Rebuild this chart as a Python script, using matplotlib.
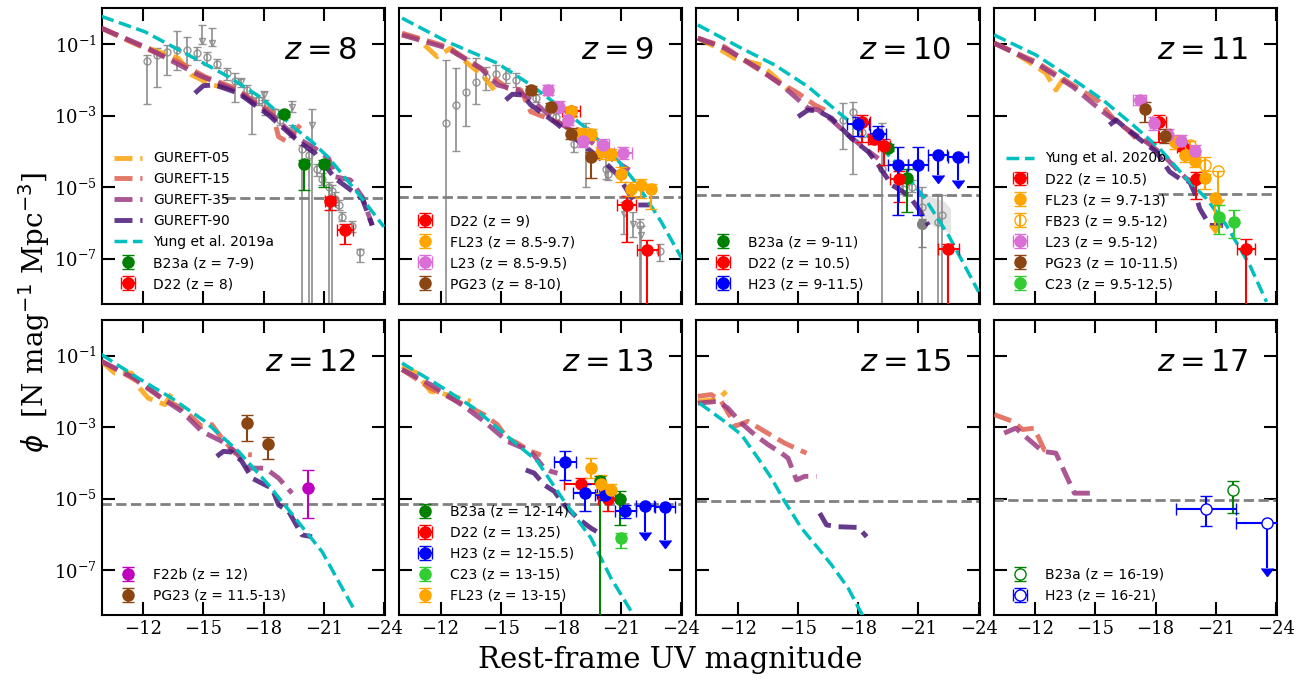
import numpy as np
import matplotlib
matplotlib.use('Agg')
import matplotlib.pyplot as plt
from matplotlib.ticker import NullLocator

plt.rcParams['font.family'] = ['DejaVu Serif']
plt.rcParams['mathtext.fontset'] = 'dejavusans'
plt.rcParams['axes.linewidth'] = 1.5

# ---------------- colours ----------------
C05 = '#FBA30C'
C15 = '#E0604D'
C35 = '#9B3A80'
C90 = '#4A1677'
CYUNG = 'c'
GRAY = '#8a8a8a'

# ---------------- panel redshifts ----------------
redshifts = [8, 9, 10, 11, 12, 13, 15, 17]
xticks = [-12, -15, -18, -21, -24]
yticks_log = [-7, -5, -3, -1]

# ---------------- model curves: (M_UV, log10 phi) ----------------
yung_z8 = [(-9.92, -0.22), (-12.08, -0.65), (-14.58, -1.40), (-16.25, -1.91), (-17.92, -2.51),
           (-19.58, -3.36), (-20.42, -3.73), (-21.25, -4.18), (-22.92, -5.32), (-24.0, -6.11)]
g05_z8 = [(-9.92, -0.55), (-11.75, -1.02), (-13.75, -1.39), (-14.42, -1.86), (-15.42, -2.14), (-16.75, -2.28)]
g15_z8 = [(-9.92, -0.55), (-12.08, -1.11), (-13.75, -1.49), (-15.08, -1.91), (-16.58, -2.23), (-17.58, -2.61),
          (-18.42, -2.89), (-18.75, -3.59), (-19.17, -3.73), (-19.83, -3.26)]
g35_z8 = [(-9.92, -0.55), (-12.08, -1.07), (-14.75, -1.86), (-16.75, -2.33), (-18.42, -2.98), (-19.58, -3.59),
          (-20.58, -3.92), (-21.25, -4.20), (-21.58, -4.71), (-22.33, -4.80), (-22.92, -5.27), (-23.42, -6.07)]
g90_z8 = [(-14.58, -2.37), (-15.0, -2.16), (-15.58, -2.14), (-16.75, -2.37), (-18.25, -2.98), (-19.58, -3.64),
          (-20.58, -4.06), (-21.58, -4.76), (-22.25, -5.04), (-22.92, -5.32), (-23.42, -6.07)]

yung_z9 = [(-10.08, -0.27), (-12.33, -0.93), (-14.83, -1.53), (-16.5, -2.14), (-17.83, -2.70), (-19.17, -3.31),
           (-20.5, -4.01), (-21.83, -4.94), (-23.0, -5.97), (-24.17, -7.14)]
g05_z9 = [(-10.08, -0.74), (-10.83, -0.83), (-11.83, -1.35), (-12.5, -1.11), (-13.33, -1.53), (-14.17, -1.91), (-14.67, -2.28)]
g15_z9 = [(-10.08, -0.69), (-12.33, -1.07), (-14.0, -1.67), (-15.33, -2.23), (-16.0, -2.28), (-16.5, -2.89),
          (-17.33, -3.07), (-18.17, -3.26), (-19.17, -3.45)]
g35_z9 = [(-10.08, -0.74), (-12.33, -1.11), (-14.0, -1.67), (-14.83, -2.14), (-15.83, -2.28), (-16.83, -2.70),
          (-17.67, -3.12), (-18.5, -3.40), (-19.5, -3.73), (-20.5, -4.20), (-21.42, -4.52)]
g90_z9 = [(-15.25, -2.56), (-15.58, -2.40), (-16.08, -2.42), (-16.5, -2.70), (-17.67, -3.17), (-18.5, -3.54),
          (-19.33, -3.92), (-20.17, -4.29), (-20.83, -4.66), (-21.5, -5.27), (-21.83, -5.50), (-22.42, -5.50)]

yung_z10 = [(-10.0, -0.46), (-12.17, -1.11), (-13.83, -1.58), (-15.5, -2.19), (-17.17, -2.98), (-18.83, -3.73),
            (-20.0, -4.38), (-21.33, -5.32), (-22.5, -6.35), (-24.0, -7.93)]
g05_z10 = [(-10.0, -0.83), (-11.0, -1.11), (-11.83, -1.39), (-13.17, -1.58), (-13.83, -1.91), (-14.5, -2.28)]
g15_z10 = [(-10.0, -0.83), (-11.33, -1.07), (-12.67, -1.58), (-14.0, -2.05), (-15.0, -2.37), (-15.83, -2.70), (-16.67, -2.93)]
g35_z10 = [(-10.0, -0.83), (-11.33, -1.11), (-13.0, -1.67), (-14.17, -2.14), (-15.5, -2.79), (-16.0, -2.84),
           (-16.67, -3.12), (-17.5, -3.54), (-18.33, -3.92), (-19.0, -4.20)]
g90_z10 = [(-15.0, -3.03), (-15.5, -2.84), (-16.0, -2.87), (-16.67, -3.07), (-17.67, -3.64), (-18.5, -4.01),
           (-19.0, -4.38), (-19.67, -4.94), (-20.5, -5.22), (-21.0, -5.60), (-21.5, -6.07)]

yung_z11 = [(-9.95, -0.74), (-12.03, -1.30), (-13.7, -1.91), (-15.37, -2.56), (-16.87, -3.26), (-18.2, -3.92),
            (-19.53, -4.76), (-20.53, -5.32), (-21.53, -6.07), (-22.7, -7.19), (-23.53, -8.21)]
g05_z11 = [(-9.95, -0.97), (-10.87, -1.21), (-11.53, -1.44), (-12.53, -1.81), (-13.03, -2.28), (-13.37, -2.0), (-13.87, -1.95)]
g15_z11 = [(-9.95, -0.97), (-12.03, -1.49), (-13.87, -2.14), (-15.2, -2.61), (-15.87, -3.07), (-16.53, -3.36),
           (-17.03, -3.64), (-17.37, -3.68), (-17.87, -3.82)]
g35_z11 = [(-9.95, -0.97), (-12.03, -1.53), (-13.87, -2.19), (-15.37, -2.89), (-16.53, -3.36), (-17.53, -3.73),
           (-18.37, -4.10), (-19.03, -4.48), (-19.53, -4.76), (-20.2, -4.94)]
g90_z11 = [(-15.7, -3.26), (-16.03, -3.12), (-16.53, -3.36), (-17.37, -3.73), (-18.03, -4.01), (-18.7, -4.57),
           (-19.2, -4.76), (-19.7, -4.85), (-20.03, -5.27), (-20.2, -5.60), (-20.7, -6.07), (-21.37, -6.07)]

yung_z12 = [(-9.92, -0.97), (-11.75, -1.63), (-13.42, -2.19), (-15.08, -2.84), (-16.75, -3.68), (-18.25, -4.62),
            (-19.58, -5.55), (-20.92, -6.49), (-22.58, -8.17)]
g05_z12 = [(-9.92, -1.16), (-10.58, -1.49), (-11.42, -1.49), (-11.75, -1.86), (-12.25, -2.19), (-13.08, -2.37), (-13.42, -2.05)]
g15_z12 = [(-9.92, -1.16), (-11.58, -1.67), (-12.92, -2.19), (-13.92, -2.47), (-14.92, -2.98), (-15.42, -2.93),
           (-15.92, -3.31), (-16.58, -3.73), (-17.42, -3.78)]
g35_z12 = [(-9.92, -1.16), (-11.58, -1.63), (-12.92, -2.19), (-13.92, -2.56), (-14.92, -3.12), (-15.92, -3.40),
           (-16.58, -3.68), (-17.25, -4.15), (-18.08, -4.15), (-18.75, -4.43), (-19.42, -4.85)]
g90_z12 = [(-15.67, -3.82), (-16.0, -3.68), (-16.42, -3.70), (-16.92, -3.96), (-17.42, -4.43), (-18.08, -4.62),
           (-18.42, -4.71), (-18.75, -5.18), (-19.25, -5.36), (-19.92, -6.02), (-20.42, -6.07)]

yung_z13 = [(-10.08, -1.21), (-12.0, -1.86), (-13.67, -2.47), (-15.33, -3.26), (-16.83, -3.96), (-18.17, -5.08),
            (-19.5, -6.11), (-20.5, -7.23), (-21.67, -8.31)]
g05_z13 = [(-10.08, -1.30), (-10.83, -1.49), (-11.17, -1.77), (-11.5, -2.0), (-12.0, -2.05), (-12.67, -2.14), (-13.5, -2.28)]
g15_z13 = [(-10.08, -1.39), (-11.5, -1.91), (-13.17, -2.37), (-14.17, -2.65), (-14.83, -2.93), (-15.33, -3.31),
           (-15.83, -3.45), (-16.5, -3.68), (-17.0, -3.78)]
g35_z13 = [(-10.08, -1.39), (-11.5, -1.81), (-13.17, -2.42), (-14.17, -2.84), (-15.33, -3.40), (-16.5, -3.68),
           (-17.17, -4.15), (-17.5, -4.24), (-17.83, -4.29)]
g90_z13 = [(-16.25, -4.20), (-16.67, -4.29), (-17.17, -4.62), (-17.67, -4.80), (-18.17, -5.18), (-18.83, -5.55),
           (-19.5, -5.83), (-19.92, -5.97)]

yung_z15 = [(-10.08, -2.33), (-11.33, -2.84), (-12.17, -3.21), (-13.0, -3.87), (-13.67, -4.43), (-14.33, -5.08),
            (-15.17, -5.83), (-16.0, -6.39), (-16.67, -6.86), (-17.5, -7.51), (-18.25, -8.31)]
g05_z15 = [(-10.0, -2.28), (-11.0, -2.23), (-11.42, -2.0)]
g15_z15 = [(-10.0, -2.14), (-10.67, -2.09), (-11.17, -2.28), (-11.67, -2.75), (-11.83, -2.98), (-12.5, -2.84),
           (-13.33, -3.12), (-14.33, -3.45), (-15.42, -3.73)]
g35_z15 = [(-10.0, -2.33), (-11.0, -2.28), (-11.5, -2.47), (-12.17, -2.89), (-12.83, -3.21), (-13.5, -3.49),
           (-14.17, -3.73), (-14.5, -3.87), (-14.92, -4.48), (-15.33, -4.38), (-15.92, -4.38)]
g90_z15 = [(-16.08, -5.41), (-16.42, -5.74), (-17.0, -5.79), (-18.0, -5.81), (-18.42, -6.07)]

g15_z17 = [(-9.95, -2.65), (-10.87, -2.84), (-11.37, -3.07), (-11.95, -3.03), (-12.45, -3.64), (-12.87, -3.68)]
g35_z17 = [(-10.45, -3.17), (-11.03, -3.03), (-11.7, -3.36), (-12.37, -3.68), (-13.03, -3.73), (-13.53, -4.34),
           (-13.95, -4.85), (-14.95, -4.85)]

# horizontal dashed limit lines: (M start, log10 phi)
limit_lines = [(-16.08, -5.30), (-9.9, -5.27), (-9.9, -5.22), (-18.1, -5.20),
               (-9.9, -5.16), (-9.9, -5.15), (-9.9, -5.07), (-9.9, -5.03)]

# ---------------- observations: (M, logphi, logphi_hi, logphi_lo, dM) ----------------
# logphi_lo = -9 means the error bar reaches zero
gray_z8 = [(-12.17, -1.47, -1.30, -2.68, 0), (-12.67, -1.30, -1.11, -2.19, 0), (-13.17, -1.21, -1.02, -1.86, 0),
           (-13.67, -1.16, -0.64, -1.72, 0), (-14.17, -1.16, -0.79, -1.58, 0), (-14.67, -1.25, -1.07, -1.44, 0),
           (-15.17, -1.37, -1.21, -1.58, 0), (-15.67, -1.56, -1.41, -1.67, 0), (-16.17, -1.81, -1.67, -2.00, 0),
           (-16.58, -2.03, -1.81, -2.61, 0), (-17.17, -2.28, -2.14, -2.51, 0), (-17.42, -2.56, -2.37, -3.50, 0),
           (-17.75, -2.56, -2.47, -2.70, 0), (-18.08, -2.70, -2.56, -2.98, 0), (-18.58, -2.91, -2.80, -3.05, 0),
           (-18.83, -3.12, -3.00, -3.25, 0), (-19.42, -3.40, -3.26, -3.59, 0), (-19.92, -3.93, -3.81, -9, 0),
           (-20.25, -4.10, -3.95, -9, 0), (-20.67, -4.50, -4.35, -4.70, 0), (-20.92, -4.76, -4.60, -4.95, 0),
           (-21.25, -4.99, -4.85, -9, 0), (-21.42, -5.11, -4.95, -9, 0), (-21.58, -5.32, -5.15, -5.50, 0),
           (-21.75, -5.50, -5.35, -5.65, 0), (-21.92, -5.83, -5.70, -5.95, 0), (-22.42, -6.08, -5.95, -6.25, 0),
           (-22.83, -6.83, -6.72, -7.09, 0)]
grayv_z8 = [(-14.92, -0.91, -0.46, -1.0, 0), (-15.42, -0.97, -0.55, -1.05, 0), (-16.87, -2.07, -1.95, -2.2, 0),
            (-18.0, -2.42, -2.30, -2.55, 0), (-19.42, -2.75, -2.60, -2.9, 0), (-20.42, -3.26, -2.80, -9, 0)]
b23a_z8 = [(-19.03, -2.96, -2.88, -3.05, 0), (-20.03, -4.36, -4.25, -5.08, 0), (-21.02, -4.34, -4.25, -4.99, 0)]
d22_z8 = [(-21.3, -5.39, -5.27, -5.64, 0.25), (-22.05, -6.19, -6.02, -6.58, 0.4)]

gray_z9 = [(-12.28, -3.21, -1.44, -9, 0), (-12.78, -2.70, -1.67, -3.99, 0), (-13.28, -2.35, -1.39, -3.29, 0),
           (-13.78, -2.07, -1.39, -2.67, 0), (-14.28, -1.91, -1.63, -2.28, 0), (-14.78, -1.84, -1.58, -2.05, 0),
           (-15.28, -1.88, -1.67, -2.09, 0), (-15.78, -2.0, -1.81, -2.19, 0), (-16.75, -2.51, -2.40, -2.62, 0),
           (-17.75, -3.03, -2.92, -3.15, 0), (-18.67, -3.78, -3.59, -4.01, 0), (-19.25, -3.40, -3.21, -4.99, 0),
           (-20.25, -4.48, -4.01, -4.76, 0), (-20.33, -4.62, -4.45, -4.80, 0), (-21.92, -6.07, -5.88, -9, 0),
           (-22.92, -6.79, -6.58, -7.08, 0)]
grayv_z9 = [(-21.17, -5.74, -5.41, -6.3, 0), (-21.58, -6.02, -5.70, -6.4, 0), (-22.0, -6.35, -6.10, -9, 0)]
d22_z9 = [(-18.5, -2.87, -2.75, -3.0, 0.45), (-21.28, -5.50, -5.24, -6.53, 0.48), (-22.3, -6.75, -6.49, -9, 0.52)]
fl23_z9 = [(-18.5, -2.87, -2.75, -3.05, 0), (-19.0, -3.50, -3.35, -3.65, 0), (-19.5, -3.52, -3.38, -3.68, 0),
           (-20.0, -4.01, -3.87, -4.20, 0), (-20.5, -4.07, -3.93, -4.25, 0), (-21.0, -4.64, -4.45, -4.85, 0),
           (-21.5, -5.04, -4.85, -5.25, 0), (-22.0, -4.94, -4.76, -5.30, 0), (-22.5, -5.04, -4.90, -5.60, 0)]
l23_z9 = [(-17.37, -2.28, -2.15, -2.42, 0.2), (-17.92, -2.75, -2.60, -2.90, 0.2), (-18.37, -3.12, -2.98, -3.27, 0.2),
          (-19.08, -3.71, -3.55, -3.87, 0.2), (-20.12, -3.82, -3.66, -3.98, 0.3), (-21.12, -4.04, -3.88, -4.22, 0.45)]
pg23_z9 = [(-16.5, -2.28, -2.18, -2.38, 0), (-17.5, -2.75, -2.65, -2.85, 0), (-18.5, -3.50, -3.35, -3.65, 0),
           (-19.5, -4.15, -4.01, -4.74, 0)]

gray_z10 = [(-17.25, -3.12, -2.65, -3.93, 0), (-17.75, -2.89, -2.61, -4.62, 0), (-18.17, -3.45, -3.30, -3.60, 0),
            (-19.17, -4.48, -3.21, -9, 0), (-20.25, -5.04, -4.85, -5.20, 0), (-20.67, -4.99, -4.80, -5.15, 0),
            (-21.17, -5.55, -4.99, -9, 0), (-22.0, -5.99, -5.20, -9, 0), (-22.2, -5.77, -5.22, -9, 0)]
grayfill_z10 = [(-21.17, -6.02, -5.90, -6.67, 0)]
band_z10_M = [-20.9, -21.3, -21.8, -22.3, -22.6]
band_z10_hi = [-5.10, -5.15, -5.30, -5.40, -5.60]
band_z10_lo = [-5.50, -5.90, -6.10, -6.20, -6.30]
b23a_z10 = [(-19.47, -3.90, -3.80, -4.00, 0), (-20.45, -4.74, -4.50, -5.69, 0)]
d22_z10 = [(-18.2, -3.19, -2.97, -3.73, 0.38), (-18.8, -3.64, -3.50, -3.80, 0.3), (-19.28, -3.85, -3.64, -4.38, 0.3),
           (-20.03, -4.78, -4.55, -5.41, 0.45), (-22.5, -6.74, -6.58, -9, 0.5)]
h23_z10 = [(-17.97, -3.24, -3.03, -3.57, 0.55), (-18.97, -3.50, -3.30, -3.75, 0.4), (-20.0, -4.38, -3.87, -5.79, 0.5),
           (-21.0, -4.38, -3.87, -5.79, 0.5)]
h23lim_z10 = [(-21.97, -4.10, -4.10, -4.66, 0.48), (-22.97, -4.15, -4.15, -4.80, 0.5)]

d22_z11 = [(-18.17, -3.19, -2.97, -3.73, 0.35), (-19.37, -3.87, -3.70, -4.00, 0.3), (-20.0, -4.76, -4.57, -5.32, 0.1),
           (-22.5, -6.74, -6.45, -9, 0.45)]
fl23_z11 = [(-18.95, -3.73, -3.55, -3.92, 0), (-19.45, -4.10, -3.92, -4.29, 0), (-19.95, -4.27, -4.10, -4.45, 0),
            (-20.45, -4.74, -4.55, -5.04, 0)]
fl23lim_z11 = [(-20.95, -5.30, -5.30, -6.07, 0)]
fb23_z11 = [(-19.73, -3.82, -3.70, -3.95, 0), (-20.45, -4.38, -4.15, -4.62, 0)]
fb23lim_z11 = [(-21.12, -4.54, -4.54, -5.32, 0)]
l23_z11 = [(-17.2, -2.56, -2.42, -2.70, 0.33), (-17.9, -3.21, -3.05, -3.40, 0.2), (-18.62, -3.54, -3.38, -3.70, 0.2),
           (-19.28, -3.71, -3.55, -3.87, 0.2), (-19.98, -3.99, -3.83, -4.15, 0.2)]
pg23_z11 = [(-17.45, -2.81, -2.61, -3.17, 0), (-18.45, -3.56, -3.38, -3.76, 0)]
c23_z11 = [(-21.15, -5.84, -5.51, -6.30, 0), (-21.9, -5.99, -5.65, -6.43, 0)]

f22b_z12 = [(-20.2, -4.71, -4.20, -5.55, 0)]
pg23_z12 = [(-17.2, -2.89, -2.65, -3.38, 0), (-18.2, -3.48, -3.29, -3.89, 0)]

b23a_z13 = [(-19.95, -4.50, -4.38, -9, 0), (-20.97, -5.02, -4.80, -5.74, 0)]
d22_z13 = [(-18.98, -4.58, -4.43, -4.82, 0.83), (-20.33, -5.01, -4.90, -5.36, 0.5)]
h23_z13 = [(-18.22, -3.99, -3.68, -4.48, 0.55), (-19.22, -4.85, -4.60, -5.36, 0.6), (-20.2, -4.90, -4.75, -5.05, 0.5),
           (-21.22, -5.36, -5.18, -5.55, 0.5)]
h23lim_z13 = [(-22.2, -5.21, -5.21, -5.93, 0.45), (-23.2, -5.25, -5.25, -6.15, 0.5)]
c23_z13 = [(-21.0, -6.11, -5.97, -6.39, 0)]
fl23_z13 = [(-19.5, -4.15, -3.87, -4.43, 0), (-20.0, -4.59, -4.35, -4.85, 0), (-20.5, -4.76, -4.60, -4.95, 0)]

b23a_z17 = [(-21.87, -4.76, -4.50, -5.41, 0)]
h23_z17 = [(-20.5, -5.29, -4.92, -5.76, (1.5, 1.47))]
h23lim_z17 = [(-23.53, -5.69, -5.69, -6.95, (1.2, 1.5))]


# ---------------- helpers ----------------
def model(ax, pairs, color, lw=3.5, alpha=0.85, label=None, z=3):
    a = np.array(pairs, dtype=float)
    return ax.plot(a[:, 0], 10 ** a[:, 1], ls='--', color=color, lw=lw, alpha=alpha,
                   label=label, zorder=z)[0]


def points(ax, rows, color, label=None, marker='o', ms=8, mfc=None, lims=False,
           elw=1.5, capsize=4, z=5, alpha=1.0):
    M = np.array([r[0] for r in rows], dtype=float)
    lp = np.array([r[1] for r in rows], dtype=float)
    hi = np.array([r[2] for r in rows], dtype=float)
    lo = np.array([r[3] for r in rows], dtype=float)
    y = 10 ** lp
    yerr = np.vstack([y - 10 ** lo, 10 ** hi - y])
    dx = [r[4] for r in rows]
    if all((not isinstance(d, tuple)) and d == 0 for d in dx):
        xerr = None
    else:
        xl, xr = [], []
        for d in dx:
            if isinstance(d, tuple):
                xl.append(d[0]); xr.append(d[1])
            elif d == 0:
                xl.append(np.nan); xr.append(np.nan)
            else:
                xl.append(d); xr.append(d)
        xerr = np.vstack([xl, xr])
    return ax.errorbar(M, y, yerr=yerr, xerr=xerr, fmt=marker, color=color, ms=ms,
                       mfc=(color if mfc is None else mfc), mec=color, ecolor=color,
                       elinewidth=elw, capsize=capsize, uplims=lims, label=label,
                       zorder=z, alpha=alpha)


def gray_pts(ax, rows, marker='o', mfc='none'):
    return points(ax, rows, GRAY, marker=marker, ms=5, mfc=mfc, elw=1.3, capsize=3, z=2, alpha=0.9)


fig, axes = plt.subplots(2, 4, figsize=(13.07, 6.79), dpi=100)
fig.subplots_adjust(left=0.0778, right=0.977, top=0.988, bottom=0.0943, wspace=0.05, hspace=0.054)
axs = axes.ravel()

leg_prop = {'family': 'DejaVu Sans', 'size': 10}

# ---- z = 8 ----
ax = axs[0]
gray_pts(ax, gray_z8)
gray_pts(ax, grayv_z8, marker='v')
h05 = model(ax, g05_z8, C05, label='GUREFT-05')
h15 = model(ax, g15_z8, C15, label='GUREFT-15')
h35 = model(ax, g35_z8, C35, label='GUREFT-35')
h90 = model(ax, g90_z8, C90, label='GUREFT-90')
hy = model(ax, yung_z8, CYUNG, lw=2.5, alpha=1, label='Yung et al. 2019a', z=4)
hb = points(ax, b23a_z8, 'green', label='B23a (z = 7-9)')
hd = points(ax, d22_z8, 'red', label='D22 (z = 8)')
ax.legend(handles=[h05, h15, h35, h90, hy, hb, hd], loc='lower left', frameon=False, prop=leg_prop)

# ---- z = 9 ----
ax = axs[1]
gray_pts(ax, gray_z9)
gray_pts(ax, grayv_z9, marker='v')
model(ax, g05_z9, C05); model(ax, g15_z9, C15); model(ax, g35_z9, C35); model(ax, g90_z9, C90)
model(ax, yung_z9, CYUNG, lw=2.5, alpha=1, z=4)
h1 = points(ax, d22_z9, 'red', label='D22 (z = 9)')
h2 = points(ax, fl23_z9, 'orange', label='FL23 (z = 8.5-9.7)')
h3 = points(ax, l23_z9, 'orchid', label='L23 (z = 8.5-9.5)')
h4 = points(ax, pg23_z9, 'saddlebrown', label='PG23 (z = 8-10)')
ax.legend(handles=[h1, h2, h3, h4], loc='lower left', frameon=False, prop=leg_prop)

# ---- z = 10 ----
ax = axs[2]
ax.fill_between(band_z10_M, 10 ** np.array(band_z10_lo), 10 ** np.array(band_z10_hi),
                color='lightgray', alpha=0.6, lw=0, zorder=1)
gray_pts(ax, gray_z10)
points(ax, grayfill_z10, 'gray', ms=7, elw=1.3, capsize=3, z=2)
model(ax, g05_z10, C05); model(ax, g15_z10, C15); model(ax, g35_z10, C35); model(ax, g90_z10, C90)
model(ax, yung_z10, CYUNG, lw=2.5, alpha=1, z=4)
h1 = points(ax, b23a_z10, 'green', label='B23a (z = 9-11)')
h2 = points(ax, d22_z10, 'red', label='D22 (z = 10.5)')
h3 = points(ax, h23_z10, 'blue', label='H23 (z = 9-11.5)')
points(ax, h23lim_z10, 'blue', lims=True)
ax.legend(handles=[h1, h2, h3], loc='lower left', frameon=False, prop=leg_prop)

# ---- z = 11 ----
ax = axs[3]
model(ax, g05_z11, C05); model(ax, g15_z11, C15); model(ax, g35_z11, C35); model(ax, g90_z11, C90)
hy = model(ax, yung_z11, CYUNG, lw=2.5, alpha=1, label='Yung et al. 2020b', z=4)
h1 = points(ax, d22_z11, 'red', label='D22 (z = 10.5)')
h2 = points(ax, fl23_z11, 'orange', label='FL23 (z = 9.7-13)')
points(ax, fl23lim_z11, 'orange', lims=True)
h3 = points(ax, fb23_z11, 'orange', mfc='none', label='FB23 (z = 9.5-12)')
points(ax, fb23lim_z11, 'orange', mfc='none', lims=True)
h4 = points(ax, l23_z11, 'orchid', label='L23 (z = 9.5-12)')
h5 = points(ax, pg23_z11, 'saddlebrown', label='PG23 (z = 10-11.5)')
h6 = points(ax, c23_z11, 'limegreen', label='C23 (z = 9.5-12.5)')
ax.legend(handles=[hy, h1, h2, h3, h4, h5, h6], loc='lower left', frameon=False, prop=leg_prop)

# ---- z = 12 ----
ax = axs[4]
model(ax, g05_z12, C05); model(ax, g15_z12, C15); model(ax, g35_z12, C35); model(ax, g90_z12, C90)
model(ax, yung_z12, CYUNG, lw=2.5, alpha=1, z=4)
h1 = points(ax, f22b_z12, 'm', label='F22b (z = 12)')
h2 = points(ax, pg23_z12, 'saddlebrown', label='PG23 (z = 11.5-13)')
ax.legend(handles=[h1, h2], loc='lower left', frameon=False, prop=leg_prop)

# ---- z = 13 ----
ax = axs[5]
model(ax, g05_z13, C05); model(ax, g15_z13, C15); model(ax, g35_z13, C35); model(ax, g90_z13, C90)
model(ax, yung_z13, CYUNG, lw=2.5, alpha=1, z=4)
h1 = points(ax, b23a_z13, 'green', label='B23a (z = 12-14)')
h2 = points(ax, d22_z13, 'red', label='D22 (z = 13.25)')
h3 = points(ax, h23_z13, 'blue', label='H23 (z = 12-15.5)')
points(ax, h23lim_z13, 'blue', lims=True)
h4 = points(ax, c23_z13, 'limegreen', label='C23 (z = 13-15)')
h5 = points(ax, fl23_z13, 'orange', label='FL23 (z = 13-15)')
ax.legend(handles=[h1, h2, h3, h4, h5], loc='lower left', frameon=False, prop=leg_prop)

# ---- z = 15 ----
ax = axs[6]
model(ax, g05_z15, C05); model(ax, g15_z15, C15); model(ax, g35_z15, C35); model(ax, g90_z15, C90)
model(ax, yung_z15, CYUNG, lw=2.5, alpha=1, z=4)

# ---- z = 17 ----
ax = axs[7]
model(ax, g15_z17, C15); model(ax, g35_z17, C35)
h1 = points(ax, b23a_z17, 'green', mfc='white', label='B23a (z = 16-19)')
h2 = points(ax, h23_z17, 'blue', mfc='white', label='H23 (z = 16-21)')
points(ax, h23lim_z17, 'blue', mfc='white', lims=True)
ax.legend(handles=[h1, h2], loc='lower left', frameon=False, prop=leg_prop)

# ---- common styling ----
for i, ax in enumerate(axs):
    ms, lv = limit_lines[i]
    ax.plot([ms, -24.5], [10 ** lv, 10 ** lv], ls='--', color='gray', lw=2, zorder=2.5)
    ax.set_yscale('log')
    ax.set_xlim(-9.93, -24.05)
    ax.set_ylim(10 ** -8.26, 10 ** 0.01)
    ax.set_xticks(xticks)
    ax.set_yticks([10.0 ** k for k in yticks_log])
    ax.yaxis.set_minor_locator(NullLocator())
    ax.tick_params(which='both', direction='in', top=True, right=True, length=9.5, width=1.5,
                   labelsize=13)
    if i < 4:
        ax.tick_params(labelbottom=False)
    if i % 4 != 0:
        ax.tick_params(labelleft=False)
    ax.text(0.9, 0.855, r'$z = %d$' % redshifts[i], transform=ax.transAxes, ha='right',
            va='center', fontsize=22)

fig.text(0.513, 0.028, 'Rest-frame UV magnitude', ha='center', va='center', fontsize=21)
fig.text(0.026, 0.54, r'$\phi$  [N mag$^{-1}$ Mpc$^{-3}$]', ha='center', va='center',
         rotation=90, fontsize=20)

fig.savefig('out.png', dpi=100)
